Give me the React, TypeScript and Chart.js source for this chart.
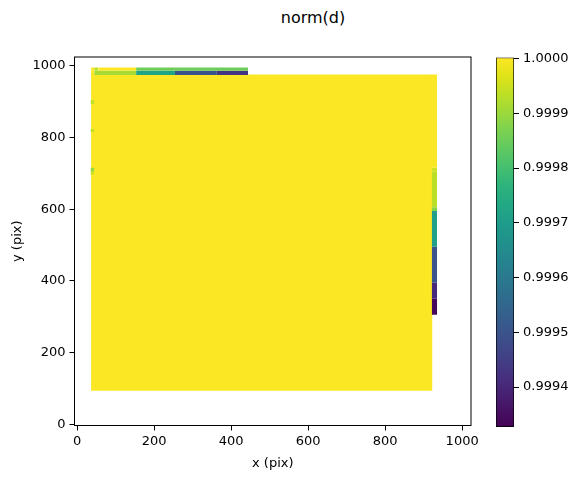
import React, { useEffect, useRef } from "react";
import { Chart, registerables } from "chart.js";
Chart.register(...registerables);

const FONT = "DejaVu Sans";

// axis settings
const xMin = -7;
const xMax = 1023;
const yMin = -3;
const yMax = 1024;
const xTicks = [0, 200, 400, 600, 800, 1000];
const yTicks = [0, 200, 400, 600, 800, 1000];

// colour range
const vMin = 0.999327;
const vMax = 1.000002;
const cbTicks = [0.9994, 0.9995, 0.9996, 0.9997, 0.9998, 0.9999, 1.0];

// cells (overlay cells first, the large base block last)
const cellX0 = [36, 44, 55, 153, 36, 44, 153, 254, 363, 920, 921, 921, 921, 921, 921, 921, 921, 34.5, 34.5, 34.5, 34.5, 36];
const cellX1 = [44, 55, 153, 444, 44, 153, 254, 363, 444, 935, 935, 935, 935, 935, 935, 935, 935, 44, 44, 44, 44, 923];
const cellY0 = [986, 986, 986, 986, 974, 974, 974, 974, 974, 715.6, 704.4, 605, 595, 495, 395, 350, 305.6, 893, 815, 704, 696, 93.7];
const cellY1 = [994.4, 994.4, 994.4, 994.4, 986, 986, 986, 986, 986, 975.5, 715.6, 704.4, 605, 595, 495, 395, 350, 904, 823, 715, 704, 975.5];
const cellValue = [1.0, 0.99994, 1.0, 0.999852, 1.0, 0.999913, 0.99972, 0.9995, 0.999428, 1.0, 0.99995, 0.999933, 0.99988, 0.999711, 0.999502, 0.999408, 0.99934, 0.99994, 0.99994, 0.9999, 0.99995, 1.0];

// viridis colormap stops
const VIRIDIS = [
  "#440154", "#471365", "#482475", "#453581", "#414487", "#3b528b", "#355f8d", "#2f6c8e",
  "#2a788e", "#25848e", "#21918c", "#1e9b8a", "#22a884", "#2db27d", "#44bf70", "#5ec962",
  "#7ad151", "#9bd93c", "#bddf26", "#dfe318", "#fde725",
];

function hexToRgb(h: string) {
  return [parseInt(h.slice(1, 3), 16), parseInt(h.slice(3, 5), 16), parseInt(h.slice(5, 7), 16)];
}

function viridis(t: number) {
  const tt = Math.max(0, Math.min(1, t));
  const n = VIRIDIS.length - 1;
  const p = tt * n;
  const i = Math.min(n - 1, Math.floor(p));
  const f = p - i;
  const a = hexToRgb(VIRIDIS[i]);
  const b = hexToRgb(VIRIDIS[i + 1]);
  const c = a.map((v, k) => Math.round(v + (b[k] - v) * f));
  return `rgb(${c[0]},${c[1]},${c[2]})`;
}

function colorFor(v: number) {
  return viridis((v - vMin) / (vMax - vMin));
}

const framePlugin = {
  id: "frame",
  afterDraw(chart: any) {
    const { ctx, chartArea } = chart;
    ctx.save();
    ctx.strokeStyle = "#000";
    ctx.lineWidth = 1;
    ctx.strokeRect(chartArea.left, chartArea.top, chartArea.right - chartArea.left, chartArea.bottom - chartArea.top);
    ctx.restore();
  },
};

export default function App() {
  const mainRef = useRef<HTMLCanvasElement>(null);
  const cbRef = useRef<HTMLCanvasElement>(null);

  useEffect(() => {
    const datasets = cellValue.map((v, i) => ({
      data: [
        { x: cellX0[i], y: cellY1[i] },
        { x: cellX1[i], y: cellY1[i] },
      ],
      fill: { value: cellY0[i] },
      backgroundColor: colorFor(v),
      borderColor: "rgba(0,0,0,0)",
      borderWidth: 0,
      pointRadius: 0,
      tension: 0,
    }));

    const tickFont = { family: FONT, size: 13 };
    const main = new Chart(mainRef.current!, {
      type: "line",
      data: { datasets },
      options: {
        responsive: false,
        animation: false,
        layout: { padding: { left: 0, right: 9, top: 57, bottom: 0 } },
        plugins: { legend: { display: false }, tooltip: { enabled: false } },
        scales: {
          x: {
            type: "linear",
            min: xMin,
            max: xMax,
            afterBuildTicks: (s: any) => {
              s.ticks = xTicks.map((value) => ({ value }));
            },
            afterFit: (s: any) => {
              s.height = 54.5;
              s.paddingLeft = 0;
              s.paddingRight = 0;
            },
            ticks: { color: "#000", font: tickFont, padding: 3, maxRotation: 0, autoSkip: false, callback: (v: any) => String(v) },
            grid: { drawOnChartArea: false, drawTicks: true, tickLength: 5, color: "#000" },
            border: { display: false },
            title: { display: true, text: "x (pix)", color: "#000", font: tickFont, padding: { top: 0, bottom: 9 } },
          },
          y: {
            type: "linear",
            min: yMin,
            max: yMax,
            afterBuildTicks: (s: any) => {
              s.ticks = yTicks.map((value) => ({ value }));
            },
            afterFit: (s: any) => {
              s.width = 74.5;
              s.paddingTop = 0;
              s.paddingBottom = 0;
            },
            ticks: { color: "#000", font: tickFont, padding: 4, autoSkip: false, callback: (v: any) => String(v) },
            grid: { drawOnChartArea: false, drawTicks: true, tickLength: 5, color: "#000" },
            border: { display: false },
            title: { display: true, text: "y (pix)", color: "#000", font: tickFont, padding: { top: 10, bottom: 0 } },
          },
        },
      },
      plugins: [framePlugin],
    } as any);

    const cb = new Chart(cbRef.current!, {
      type: "bar",
      data: {
        labels: [""],
        datasets: [
          {
            data: [[vMin, vMax]],
            backgroundColor: (ctx: any) => {
              const area = ctx.chart.chartArea;
              if (!area) return VIRIDIS[VIRIDIS.length - 1];
              const g = ctx.chart.ctx.createLinearGradient(0, area.bottom, 0, area.top);
              VIRIDIS.forEach((c, i) => g.addColorStop(i / (VIRIDIS.length - 1), c));
              return g;
            },
            borderColor: "#000",
            borderWidth: 1,
            borderSkipped: false,
            barPercentage: 1,
            categoryPercentage: 1,
          },
        ],
      },
      options: {
        responsive: false,
        animation: false,
        layout: { padding: { left: 16, right: 0, top: 57.5, bottom: 53 } },
        plugins: { legend: { display: false }, tooltip: { enabled: false } },
        scales: {
          x: { display: false },
          y: {
            position: "right",
            min: vMin,
            max: vMax,
            afterBuildTicks: (s: any) => {
              s.ticks = cbTicks.map((value) => ({ value }));
            },
            afterFit: (s: any) => {
              s.width = 68;
              s.paddingTop = 0;
              s.paddingBottom = 0;
            },
            ticks: {
              color: "#000",
              font: tickFont,
              padding: 4,
              autoSkip: false,
              callback: (v: any) => Number(v).toFixed(4),
            },
            grid: { drawOnChartArea: false, drawTicks: true, tickLength: 5, color: "#000" },
            border: { display: false },
          },
        },
      },
    } as any);

    return () => {
      main.destroy();
      cb.destroy();
    };
  }, []);

  return (
    <div style={{ position: "fixed", left: 0, top: 0, width: 582, height: 480, background: "#fff" }}>
      <div
        style={{
          position: "absolute",
          left: 213,
          top: 8,
          width: 200,
          textAlign: "center",
          fontFamily: FONT,
          fontSize: 16,
          lineHeight: "20px",
          color: "#000",
        }}
      >
        norm(d)
      </div>
      <canvas ref={mainRef} width={480} height={480} style={{ position: "absolute", left: 0, top: 0 }} />
      <canvas ref={cbRef} width={102} height={480} style={{ position: "absolute", left: 480, top: 0 }} />
    </div>
  );
}
